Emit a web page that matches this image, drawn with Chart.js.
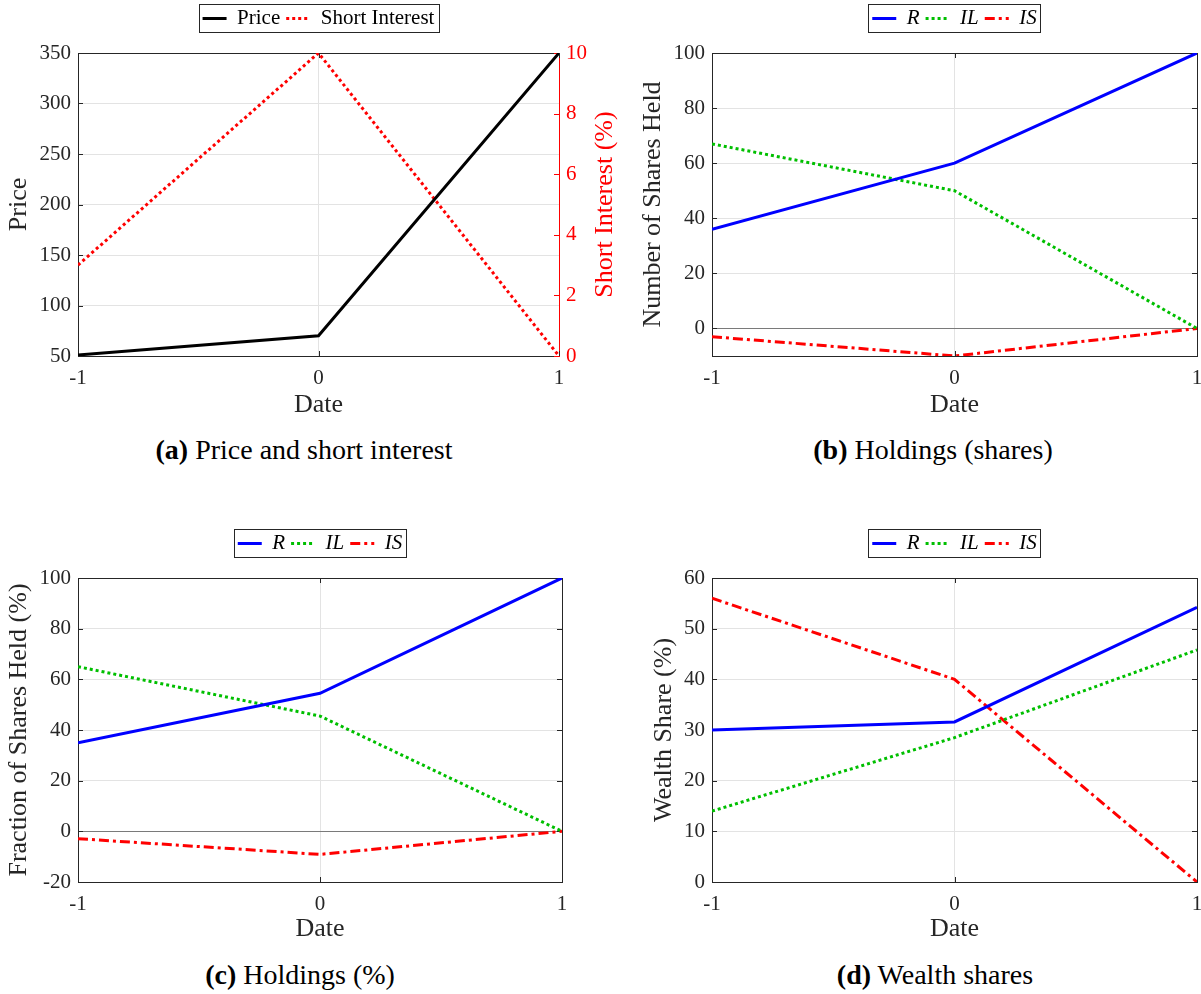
<!DOCTYPE html>
<html>
<head>
<meta charset="utf-8">
<title>Price, holdings and wealth shares</title>
<script src="https://cdn.jsdelivr.net/npm/chart.js@4.4.4/dist/chart.umd.min.js"></script>
<style>
  html, body { margin: 0; padding: 0; background: #fff; overflow: hidden; }
  body { width: 1201px; height: 994px; position: relative; }
  .panel { position: absolute; }
  .caption {
    position: absolute;
    font-family: "Liberation Serif", "Times New Roman", serif;
    font-size: 28px;
    color: #000;
    white-space: nowrap;
    transform: translate(-50%, -50%);
  }
</style>
</head>
<body>
<div class="panel" style="left:0px;top:0px;width:625px;height:425px"><canvas id="chartA"></canvas></div>
<div class="panel" style="left:634px;top:0px;width:600px;height:425px"><canvas id="chartB"></canvas></div>
<div class="panel" style="left:0px;top:520px;width:600px;height:429px"><canvas id="chartC"></canvas></div>
<div class="panel" style="left:645px;top:520px;width:600px;height:429px"><canvas id="chartD"></canvas></div>

<div class="caption" style="left:304px;top:450px"><b>(a)</b> Price and short interest</div>
<div class="caption" style="left:933px;top:450px"><b>(b)</b> Holdings (shares)</div>
<div class="caption" style="left:300px;top:975px"><b>(c)</b> Holdings (%)</div>
<div class="caption" style="left:935px;top:975px"><b>(d)</b> Wealth shares</div>

<script>
// data
const dates = [-1, 0, 1];

const price = [51, 70, 350];
const shortInterest = [3, 10, 0];

const sharesR = [36, 60, 100];
const sharesIL = [67, 50, 0];
const sharesIS = [-3, -10, 0];

const pctR = [35.0, 54.5, 100];
const pctIL = [65.0, 45.5, 0];
const pctIS = [-2.9, -9.1, 0];

const wealthR = [30.0, 31.6, 54.2];
const wealthIL = [14.0, 28.5, 45.8];
const wealthIS = [56.0, 40.0, 0];

// tick labels
const dateTicks = [-1, 0, 1];
const priceTicks = [50, 100, 150, 200, 250, 300, 350];
const shortTicks = [0, 2, 4, 6, 8, 10];
const sharesTicks = [0, 20, 40, 60, 80, 100];
const pctTicks = [-20, 0, 20, 40, 60, 80, 100];
const wealthTicks = [0, 10, 20, 30, 40, 50, 60];

const FONT = '"Liberation Serif", "Times New Roman", serif';
const AXIS = '#262626';
const GRID = '#e3e3e3';
const LEGEND_H = 37;

const SOLID = [];
const DOTTED = [3, 3];
const DASHDOT = [10, 4, 3, 4];

const pts = ys => dates.map((d, i) => ({ x: d, y: ys[i] }));

function line(label, ys, color, dash, axis) {
    return {
        label: label,
        data: pts(ys),
        borderColor: color,
        backgroundColor: color,
        borderWidth: 3,
        borderDash: dash,
        borderCapStyle: 'butt',
        pointRadius: 0,
        pointHoverRadius: 0,
        pointStyle: 'line',
        tension: 0,
        yAxisID: axis || 'y'
    };
}

// box around the legend, like matlab
const legendBox = {
    id: 'legendBox',
    afterDraw(chart) {
        const boxes = chart.legend && chart.legend.legendHitBoxes;
        if (!boxes || !boxes.length) return;
        const ctx = chart.ctx;
        const l = Math.min(...boxes.map(b => b.left)) - 4;
        const r = Math.max(...boxes.map(b => b.left + b.width)) + 4;
        const t = boxes[0].top - 4;
        const h = boxes[0].height + 7;
        ctx.save();
        ctx.strokeStyle = AXIS;
        ctx.lineWidth = 1;
        ctx.strokeRect(Math.round(l) + 0.5, Math.round(t) + 0.5, Math.round(r - l), Math.round(h));
        ctx.restore();
    }
};

// small inward tick marks on the axes box
const innerTicks = {
    id: 'innerTicks',
    beforeDatasetsDraw(chart) {
        const { ctx, chartArea: a, scales } = chart;
        const len = 5;
        const rightHasTicks = scales.yR && scales.yR.options.ticks.display;
        ctx.save();
        ctx.lineWidth = 1;
        ctx.strokeStyle = AXIS;
        ctx.beginPath();
        scales.x.ticks.forEach(t => {
            const px = Math.round(scales.x.getPixelForValue(t.value)) + 0.5;
            ctx.moveTo(px, a.bottom); ctx.lineTo(px, a.bottom - len);
            ctx.moveTo(px, a.top); ctx.lineTo(px, a.top + len);
        });
        scales.y.ticks.forEach(t => {
            const py = Math.round(scales.y.getPixelForValue(t.value)) + 0.5;
            ctx.moveTo(a.left, py); ctx.lineTo(a.left + len, py);
            if (!rightHasTicks) { ctx.moveTo(a.right, py); ctx.lineTo(a.right - len, py); }
        });
        ctx.stroke();
        if (rightHasTicks) {
            ctx.strokeStyle = scales.yR.options.ticks.color;
            ctx.beginPath();
            scales.yR.ticks.forEach(t => {
                const py = Math.round(scales.yR.getPixelForValue(t.value)) + 0.5;
                ctx.moveTo(a.right, py); ctx.lineTo(a.right - len, py);
            });
            ctx.stroke();
        }
        ctx.restore();
    }
};

// right axis label reads bottom to top in the original
const rightTitle = {
    id: 'rightTitle',
    afterDraw(chart, args, opts) {
        if (!opts || !opts.text) return;
        const { ctx, chartArea } = chart;
        ctx.save();
        ctx.translate(opts.x, (chartArea.top + chartArea.bottom) / 2);
        ctx.rotate(-Math.PI / 2);
        ctx.font = '26px ' + FONT;
        ctx.fillStyle = opts.color;
        ctx.textAlign = 'center';
        ctx.textBaseline = 'middle';
        ctx.fillText(opts.text, 0, 0);
        ctx.restore();
    }
};

function makeChart(id, p) {
    const tickFont = { family: FONT, size: 21 };
    const titleFont = { family: FONT, size: 26 };

    const scales = {
        x: {
            type: 'linear',
            min: -1,
            max: 1,
            afterBuildTicks: s => { s.ticks = dateTicks.map(v => ({ value: v })); },
            afterFit: s => { s.height = p.bottomH; },
            grid: { color: GRID, drawTicks: false },
            border: { color: AXIS },
            ticks: { color: AXIS, font: tickFont, padding: 10, maxRotation: 0 },
            title: { display: true, text: 'Date', color: AXIS, font: titleFont, padding: { top: 0, bottom: 4 } }
        },
        xTop: {
            type: 'linear',
            position: 'top',
            min: -1,
            max: 1,
            afterFit: s => { s.height = p.topH; },
            grid: { display: false, drawTicks: false },
            border: { color: AXIS },
            ticks: { display: false }
        },
        y: {
            type: 'linear',
            position: 'left',
            min: p.yMin,
            max: p.yMax,
            afterBuildTicks: s => { s.ticks = p.yTicks.map(v => ({ value: v })); },
            afterFit: s => { s.width = p.yLeftW; },
            grid: {
                drawTicks: false,
                color: c => (p.zero && c.tick && c.tick.value === 0) ? '#7a7a7a' : GRID
            },
            border: { color: AXIS },
            ticks: { color: AXIS, font: tickFont, padding: 7 },
            title: { display: true, text: p.yTitle, color: AXIS, font: titleFont, padding: { top: 4, bottom: 0 } }
        },
        yR: p.right ? {
            type: 'linear',
            position: 'right',
            min: p.right.min,
            max: p.right.max,
            afterBuildTicks: s => { s.ticks = p.right.ticks.map(v => ({ value: v })); },
            afterFit: s => { s.width = p.rightW; },
            grid: { display: false, drawTicks: false },
            border: { color: p.right.color },
            ticks: { color: p.right.color, font: tickFont, padding: 7 }
        } : {
            type: 'linear',
            position: 'right',
            min: p.yMin,
            max: p.yMax,
            afterFit: s => { s.width = p.rightW; },
            grid: { display: false, drawTicks: false },
            border: { color: AXIS },
            ticks: { display: false }
        }
    };

    const options = {
        responsive: true,
        maintainAspectRatio: false,
        animation: false,
        layout: { padding: { top: p.padTop, left: 0, right: 0, bottom: 0 } },
        scales: scales,
        plugins: {
            tooltip: { enabled: false },
            legend: {
                position: 'top',
                fullSize: false,
                align: 'center',
                labels: {
                    usePointStyle: true,
                    pointStyleWidth: 24,
                    padding: 6,
                    color: '#000',
                    font: { family: FONT, size: 21, style: p.italic ? 'italic' : 'normal' },
                    generateLabels: function (chart) {
                        return chart.data.datasets.map((ds, i) => ({
                            text: ds.label,
                            fillStyle: ds.borderColor,
                            strokeStyle: ds.borderColor,
                            lineWidth: ds.borderWidth,
                            lineDash: ds.borderDash,
                            lineCap: 'butt',
                            pointStyle: 'line',
                            fontColor: '#000',
                            hidden: false,
                            datasetIndex: i
                        }));
                    }
                }
            },
            rightTitle: p.rightTitle || {}
        }
    };

    return new Chart(document.getElementById(id), {
        type: 'line',
        data: { datasets: p.datasets },
        options: options,
        plugins: [legendBox, innerTicks, rightTitle]
    });
}

makeChart('chartA', {
    yLeftW: 78, rightW: 66, bottomH: 69, padTop: 2, topH: 53 - 2 - LEGEND_H,
    yTitle: 'Price', yMin: 50, yMax: 350, yTicks: priceTicks,
    right: { min: 0, max: 10, ticks: shortTicks, color: '#ff0000' },
    rightTitle: { text: 'Short Interest (%)', x: 605, color: '#ff0000' },
    datasets: [
        line('Price', price, '#000000', SOLID, 'y'),
        line('Short Interest', shortInterest, '#ff0000', DOTTED, 'yR')
    ]
});

makeChart('chartB', {
    yLeftW: 78, rightW: 37, bottomH: 69, padTop: 2, topH: 53 - 2 - LEGEND_H,
    yTitle: 'Number of Shares Held', yMin: -10, yMax: 100, yTicks: sharesTicks,
    zero: true, italic: true,
    datasets: [
        line('R', sharesR, '#0000ff', SOLID),
        line('IL', sharesIL, '#00bf00', DOTTED),
        line('IS', sharesIS, '#ff0000', DASHDOT)
    ]
});

makeChart('chartC', {
    yLeftW: 78, rightW: 38, bottomH: 67, padTop: 7, topH: 58 - 7 - LEGEND_H,
    yTitle: 'Fraction of Shares Held (%)', yMin: -20, yMax: 100, yTicks: pctTicks,
    zero: true, italic: true,
    datasets: [
        line('R', pctR, '#0000ff', SOLID),
        line('IL', pctIL, '#00bf00', DOTTED),
        line('IS', pctIS, '#ff0000', DASHDOT)
    ]
});

makeChart('chartD', {
    yLeftW: 67, rightW: 48, bottomH: 67, padTop: 7, topH: 58 - 7 - LEGEND_H,
    yTitle: 'Wealth Share (%)', yMin: 0, yMax: 60, yTicks: wealthTicks,
    italic: true,
    datasets: [
        line('R', wealthR, '#0000ff', SOLID),
        line('IL', wealthIL, '#00bf00', DOTTED),
        line('IS', wealthIS, '#ff0000', DASHDOT)
    ]
});
</script>
</body>
</html>
